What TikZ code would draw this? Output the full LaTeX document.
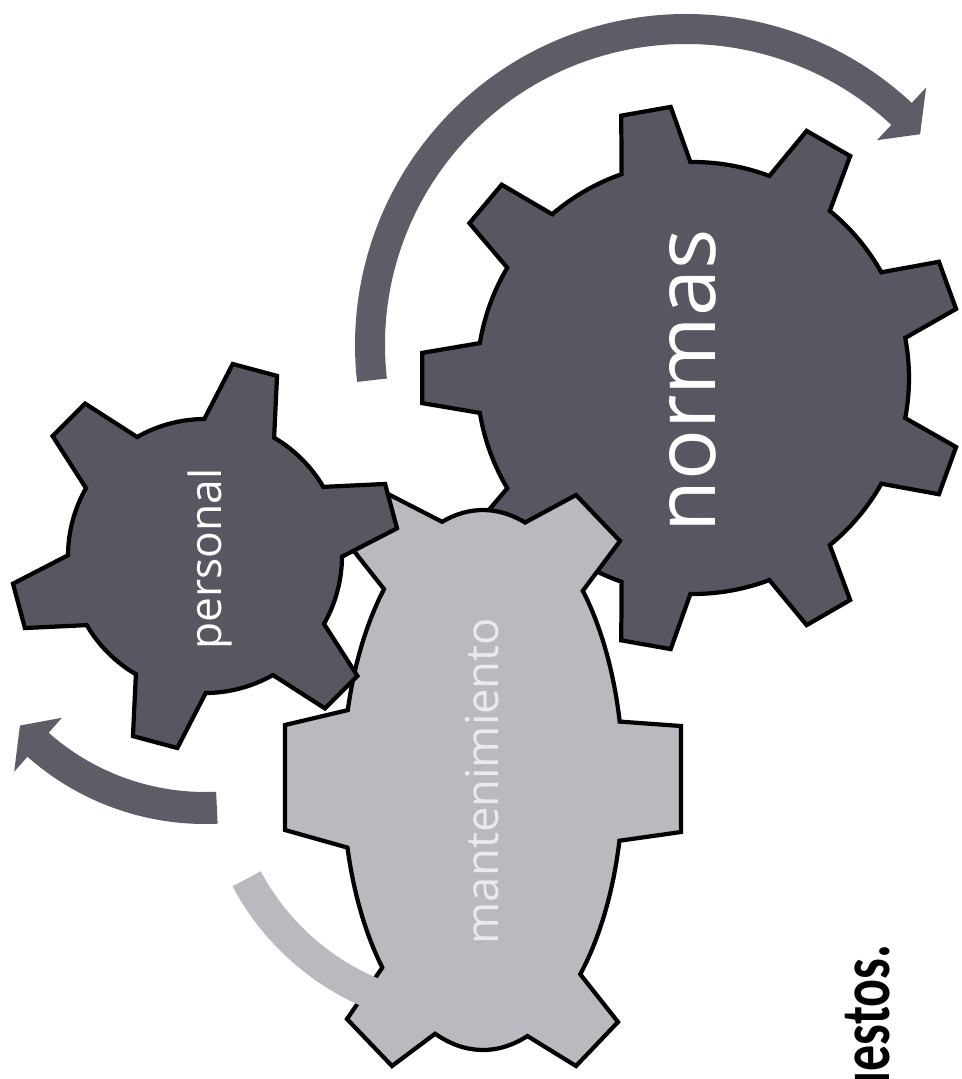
\documentclass[tikz,border=0pt]{standalone}
\usepackage{fontspec}
\usepackage{graphicx}
\setmainfont{Open Sans}
\newfontfamily\capfont{Carlito}
\definecolor{geardark}{RGB}{88,87,97}
\definecolor{gearlight}{RGB}{185,185,191}
\definecolor{arrowdark}{RGB}{94,93,103}
\definecolor{textlight}{RGB}{234,234,238}
\begin{document}
\begin{tikzpicture}[x=0.01cm,y=-0.01cm,
  gearline/.style={draw=black,line width=1.2pt,line join=miter},
  darkgear/.style={gearline,fill=geardark},
  lightgear/.style={gearline,fill=gearlight},
  arrowdk/.style={fill=arrowdark},
  arrowlt/.style={fill=gearlight},
  gearlabel/.style={rotate=90,anchor=base,inner sep=0pt,text=white}]
\useasboundingbox (0,0) rectangle (962,1079);
\clip (0,0) rectangle (962,1079);

% top curved arrow around "normas"
\begin{scope}[shift={(686,345)}]
\coordinate (toptip) at (318:315);
\fill[arrowdk] (173.6:301) arc[start angle=173.6,end angle=313,radius=301]
  -- (313:280) -- (toptip) -- (313:352) -- (313:331)
  arc[start angle=313,end angle=173.6,radius=331] -- cycle;
\end{scope}

% left curved arrow below "personal"
\begin{scope}[shift={(205,556)}]
\coordinate (lefttip) at (137.5:251);
\fill[arrowdk] (87.3:236) arc[start angle=87.3,end angle=131.5,radius=236]
  -- (131.5:216) -- (lefttip) -- (131.5:288) -- (131.5:268)
  arc[start angle=131.5,end angle=87.3,radius=268] -- cycle;
\end{scope}

% gear "normas"
\begin{scope}[shift={(693,378)}]
\filldraw[darkgear] ({20-9.3}:216)
  \foreach \a in {20,60,...,340} {
    -- ({\a-5.3}:272) -- ({\a+5.3}:272) -- ({\a+9.3}:216)
    arc[start angle=\a+9.3,end angle=\a+30.7,radius=216] } -- cycle;
\end{scope}

% gear "mantenimiento"
\begin{scope}[shift={(483,780)}]
\filldraw[lightgear] (253:140 and 270)
  arc[start angle=253,end angle=287.5,x radius=140,y radius=270]
  -- (93,-285) -- (137,-239) -- (315.5:140 and 270)
  arc[start angle=315.5,end angle=347.5,x radius=140,y radius=270]
  -- (198,-54) -- (198,52) -- (13:140 and 270)
  arc[start angle=13,end angle=46,x radius=140,y radius=270]
  -- (135,242) -- (93,286) -- (71.5:140 and 270)
  arc[start angle=71.5,end angle=110,x radius=140,y radius=270]
  -- (-91,286) -- (-136,239) -- (136:140 and 270)
  arc[start angle=136,end angle=165.5,x radius=140,y radius=270]
  -- (-198,50) -- (-198,-55) -- (195:140 and 270)
  arc[start angle=195,end angle=225,x radius=140,y radius=270]
  -- (-137,-239) -- (-93,-285) -- cycle;
\end{scope}

% light curved band at lower left
\begin{scope}[shift={(470,760)}]
\fill[arrowlt] (152:237) arc[start angle=152,end angle=105,radius=237]
  -- (105:269) arc[start angle=105,end angle=152,radius=269] -- cycle;
\end{scope}

% gear "personal"
\begin{scope}[shift={(205,556)}]
\filldraw[darkgear] ({45-15.3}:137)
  \foreach \a in {45,105,...,345} {
    -- ({\a-6.8}:194) -- ({\a+6.8}:194) -- ({\a+15.3}:137)
    arc[start angle=\a+15.3,end angle=\a+44.7,radius=137] } -- cycle;
\end{scope}

% labels
\node[gearlabel,font=\fontsize{24pt}{28pt}\selectfont] (normas) at (715,381) {normas};
\node[gearlabel,font=\fontsize{12.6pt}{15pt}\selectfont] (personal) at (221,559) {personal};
\node[gearlabel,text=textlight,font=\fontsize{12.9pt}{15pt}\selectfont] (mant) at (498,781) {mantenimiento};
\node[rotate=90,anchor=base east,inner sep=0pt,font=\capfont\bfseries\fontsize{20pt}{24pt}\selectfont] (caption) at (889,944) {\scalebox{0.74}[1]{uestos.}};
\end{tikzpicture}
\end{document}
